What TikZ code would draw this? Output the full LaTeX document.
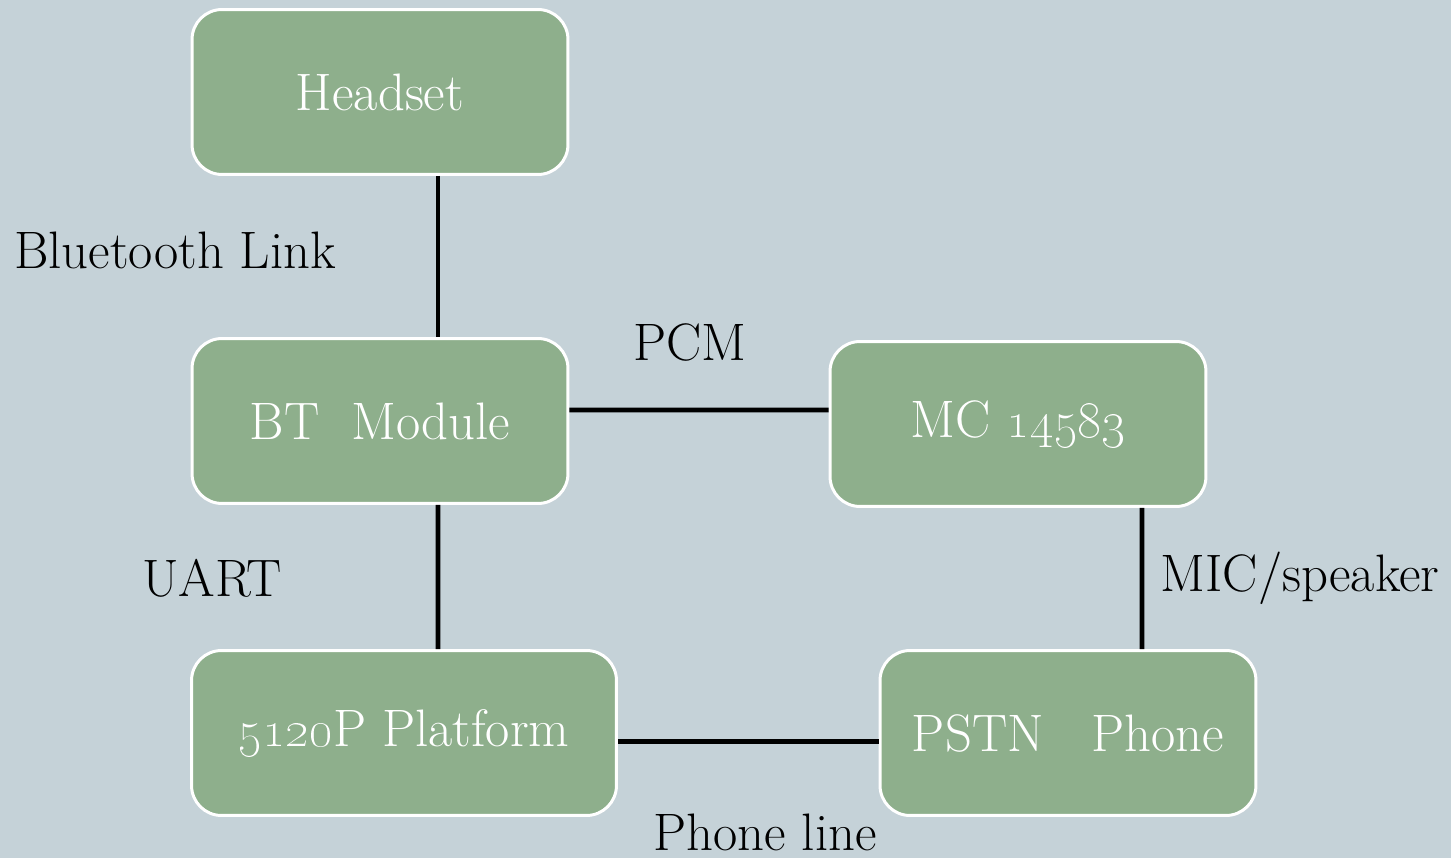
\documentclass[tikz,border=0pt]{standalone}
\usepackage{tikz}
\usetikzlibrary{positioning}
\definecolor{bgblue}{HTML}{C5D2D8}
\definecolor{boxgreen}{HTML}{8EAF8C}
\tikzset{
  block/.style={draw=white, line width=1.7pt, fill=boxgreen, rounded corners=0.6cm,
    text=white, minimum width=7.52cm, minimum height=3.3cm, font=\fontsize{30}{36}\selectfont},
  link/.style={line width=2.8pt, black},
  lbl/.style={font=\fontsize{30}{36}\selectfont, text=black, inner sep=0pt}
}
\begin{document}
\begin{tikzpicture}[x=0.02cm, y=-0.02cm]
%background
\fill[bgblue] (0,0) rectangle (1451,858);
\useasboundingbox (0,0) rectangle (1451,858);
\node[block] (hs) at (380,92) {Headset};
\node[block] (bt) at (380,421) {BT\ \ Module};
\node[block] (mc) at (1018,424) {MC \oldstylenums{14583}};
\node[block, minimum width=8.5cm] (pf) at (404,733) {\oldstylenums{5120}P Platform};
\node[block] (ps) at (1068,733) {PSTN\ \ \ Phone};
\draw[link] ([xshift=1.16cm]hs.south) -- ([xshift=1.16cm]bt.north);
\draw[link] ([yshift=0.22cm]bt.east) -- ([yshift=0.28cm]mc.west);
\draw[link] ([xshift=1.16cm]bt.south) -- ([xshift=0.68cm]pf.north);
\draw[link] ([xshift=2.48cm]mc.south) -- ([xshift=1.48cm]ps.north);
\draw[link] ([yshift=-0.17cm]pf.east) -- ([yshift=-0.17cm]ps.west);
\node[lbl] (l1) at (175,250) {Bluetooth Link};
\node[lbl] (l2) at (690,342) {PCM};
\node[lbl] (l3) at (212,578) {UART};
\node[lbl] (l4) at (1300,578) {MIC/speaker};
\node[lbl] (l5) at (765,832) {Phone line};
\end{tikzpicture}
\end{document}
